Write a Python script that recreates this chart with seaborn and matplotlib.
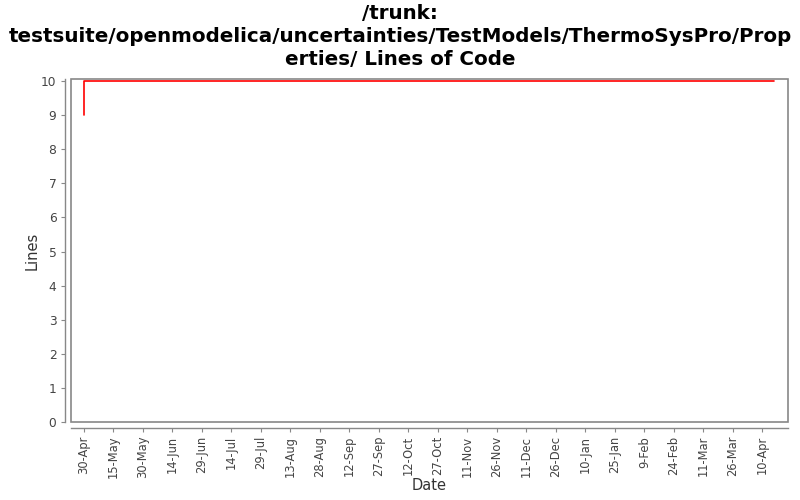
import pandas as pd
import numpy as np
import matplotlib
matplotlib.use("Agg")
import matplotlib.pyplot as plt
import matplotlib.ticker as mticker
import matplotlib.dates as mdates
from matplotlib.patches import Rectangle
import seaborn as sns

# --- DATA ---
dates = ['2010-04-30', '2010-04-30', '2011-04-16']
lines = [9, 10, 10]
tick_start = '2010-04-30'
n_ticks = 24
title = '/trunk:\ntestsuite/openmodelica/uncertainties/TestModels/ThermoSysPro/Prop\nerties/ Lines of Code'

def plot_loc():
    df = pd.DataFrame({'Date': pd.to_datetime(dates), 'Lines': lines})

    sns.set_style('white')
    plt.rcParams['font.family'] = ['DejaVu Sans']

    fig = plt.figure(figsize=(8, 5), dpi=100)
    ax = fig.add_axes([71 / 800, 1 - 422 / 500, 717 / 800, 343 / 500])

    sns.lineplot(data=df, x='Date', y='Lines', sort=False, estimator=None,
                 color='red', linewidth=1.2, ax=ax)

    ax.set_xlim(pd.Timestamp('2010-04-23 12:00'), pd.Timestamp('2011-04-23'))
    ax.set_ylim(0, 10.06)
    ax.set_yticks(range(0, 11))

    ticks = pd.date_range(tick_start, periods=n_ticks, freq='15D')
    ax.xaxis.set_major_locator(mticker.FixedLocator(mdates.date2num(ticks.to_pydatetime())))
    ax.xaxis.set_major_formatter(mticker.FuncFormatter(
        lambda v, p: f'{mdates.num2date(v).day}-{mdates.num2date(v).strftime("%b")}'))
    ax.tick_params(axis='x', labelrotation=90, pad=3, labelsize=8.3)
    ax.tick_params(axis='y', labelsize=8.8)
    ax.tick_params(axis='both', labelcolor='#444444',
                   length=3, width=0.8, color='#888888',
                   direction='out', bottom=True, left=True)

    # box around plot area
    ax.add_patch(Rectangle((0, 0), 1, 1, transform=ax.transAxes, fill=False,
                           edgecolor='#888888', linewidth=1.2, clip_on=False))
    for side in ['top', 'right']:
        ax.spines[side].set_visible(False)
    for side in ['left', 'bottom']:
        ax.spines[side].set_position(('outward', 4))
        ax.spines[side].set_color('#888888')
        ax.spines[side].set_linewidth(1.0)

    ax.set_xlabel('Date', fontsize=10.5, color='#333333', labelpad=0)
    ax.set_ylabel('Lines', fontsize=10.5, color='#333333', labelpad=1)
    fig.suptitle(title, fontsize=14.3, fontweight='bold', color='black',
                 y=0.992, linespacing=1.27)

    fig.savefig('out.png', dpi=100)

if __name__ == "__main__":
    plot_loc()
